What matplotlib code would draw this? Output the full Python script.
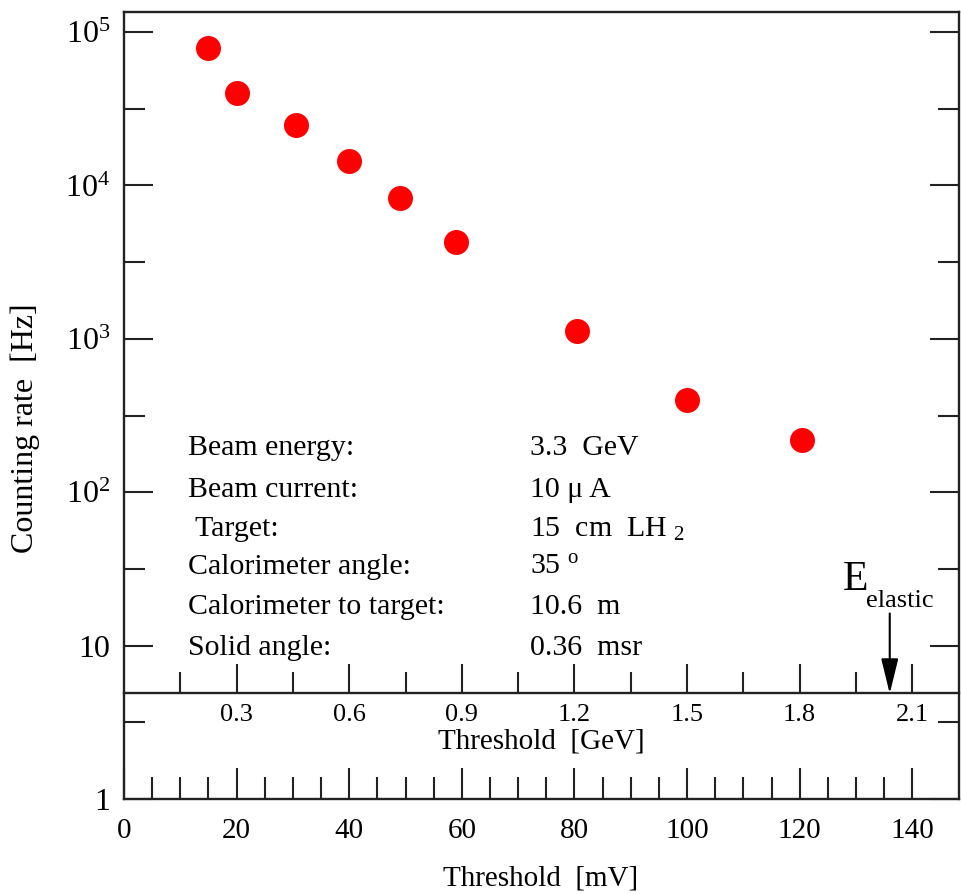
import matplotlib
matplotlib.use('Agg')
import matplotlib.pyplot as plt
from matplotlib.ticker import FixedLocator, NullFormatter
import numpy as np

plt.rcParams['font.family'] = ['Liberation Serif', 'DejaVu Serif']
plt.rcParams['mathtext.fontset'] = 'custom'
plt.rcParams['mathtext.rm'] = 'Liberation Serif'
plt.rcParams['mathtext.it'] = 'Liberation Serif:italic'

# data
threshold_mv = [15, 20, 30.5, 40, 49, 59, 80.5, 100, 120.5]
rate_hz = [78300, 40200, 24700, 14400, 8340, 4280, 1130, 401, 219]

mv_major = [0, 20, 40, 60, 80, 100, 120, 140]
mv_minor = np.arange(5, 141, 5)
gev_major = [0.3, 0.6, 0.9, 1.2, 1.5, 1.8, 2.1]
gev_minor = [0.15, 0.45, 0.75, 1.05, 1.35, 1.65, 1.95]
ytick_vals = [1, 10, 100, 1000, 10000, 100000]
ytick_labels = ['1', '10', r'$10^{2}$', r'$10^{3}$', r'$10^{4}$', r'$10^{5}$']
ytick_minor = [10 ** (k + 0.5) for k in range(5)]

info_names = ['Beam energy:', 'Beam current:', ' Target:', 'Calorimeter angle:',
              'Calorimeter to target:', 'Solid angle:']
info_values = ['3.3  GeV', '10 μ A', r'15  cm  LH $_{2}$', r'35 $^{\rm o}$', '10.6  m', '0.36  msr']

mv_per_gev = 1 / 0.015
e_elastic_gev = 2.04

fig = plt.figure(figsize=(9.62, 8.94), dpi=100)
ax = fig.add_axes([124 / 962, 1 - 799 / 894, 835 / 962, 787 / 894])

ax.plot(threshold_mv, rate_hz, 'o', color='red', ms=18, mec='none')

ax.set_yscale('log')
ax.set_xlim(0, 148.3)
ax.set_ylim(1, 1.351e5)

for s in ax.spines.values():
    s.set_linewidth(1.7)
    s.set_color('#222222')

ax.set_yticks(ytick_vals)
ax.set_yticklabels(ytick_labels)
ax.yaxis.set_minor_locator(FixedLocator(ytick_minor))
ax.yaxis.set_minor_formatter(NullFormatter())
ax.tick_params(axis='y', which='both', direction='in', left=True, right=True,
               labelsize=23, pad=10, width=1.5, color='#222222')
ax.tick_params(axis='y', which='major', length=21)
ax.tick_params(axis='y', which='minor', length=15)

ax.set_xticks(mv_major)
ax.xaxis.set_minor_locator(FixedLocator(mv_minor))
ax.tick_params(axis='x', which='both', direction='in', top=False, bottom=True,
               labelsize=21, pad=14, width=1.5, color='#222222')
ax.tick_params(axis='x', which='major', length=22)
ax.tick_params(axis='x', which='minor', length=16)

# inner GeV scale
sec = ax.secondary_xaxis(106 / 787, functions=(lambda v: v / mv_per_gev, lambda g: g * mv_per_gev))
sec.set_xticks(gev_major)
sec.set_xticklabels(['%.1f' % g for g in gev_major])
sec.xaxis.set_minor_locator(FixedLocator(gev_minor))
sec.tick_params(axis='x', which='both', direction='in', labelsize=19, pad=8, width=1.5, color='#222222')
sec.tick_params(axis='x', which='major', length=21)
sec.tick_params(axis='x', which='minor', length=15)
sec.spines['bottom'].set_linewidth(1.7)
sec.spines['bottom'].set_color('#222222')
sec.set_xlabel('Threshold  [GeV]', fontsize=21, labelpad=2)

fig.text(541 / 962, 1 - 878 / 894, 'Threshold  [mV]', fontsize=21, ha='center', va='center')
fig.text(25 / 962, 1 - 428 / 894, 'Counting rate  [Hz]', fontsize=23, ha='center', va='center', rotation=90)

# run conditions
row_y = [448, 490, 529, 567, 607, 648]
for name, val, py in zip(info_names, info_values, row_y):
    fig.text(188 / 962, 1 - py / 894, name, fontsize=21.5, ha='left', va='center')
    fig.text(530 / 962, 1 - py / 894, val, fontsize=21.5, ha='left', va='center')

# elastic arrow
x_el = e_elastic_gev * mv_per_gev
ax.annotate('', xy=(x_el, 4.86), xytext=(x_el, 16.2),
            arrowprops=dict(arrowstyle='-|>,head_length=0.9,head_width=0.22',
                            color='black', lw=1.5, mutation_scale=24, shrinkA=0, shrinkB=0))
fig.text(843 / 962, 1 - 580 / 894, 'E', fontsize=30, ha='left', va='center')
fig.text(866 / 962, 1 - 601 / 894, 'elastic', fontsize=19, ha='left', va='center')

fig.savefig('out.png', dpi=100)
